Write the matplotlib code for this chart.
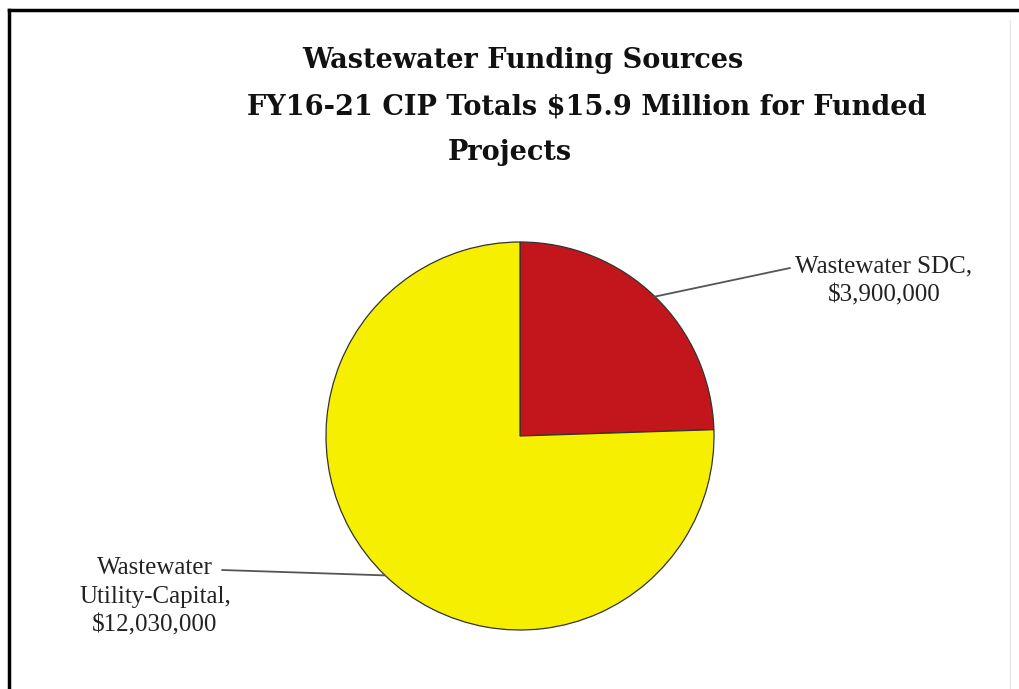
import numpy as np
import matplotlib.pyplot as plt
from matplotlib.lines import Line2D

# --- data ---
sources = ["Wastewater SDC,\n$3,900,000", "Wastewater\nUtility-Capital,\n$12,030,000"]
amounts = [3900000, 12030000]
colors = ["#C3161C", "#F6F000"]

title_lines = ["Wastewater Funding Sources",
               "FY16-21 CIP Totals $15.9 Million for Funded",
               "Projects"]

W, H = 1019, 689
fig = plt.figure(figsize=(W / 100, H / 100), dpi=100)

# pie axes placed in pixels: centre (520, 436), radius 194
cx, cy, r = 520, 436, 194
ax = fig.add_axes([(cx - r) / W, (H - cy - r) / H, 2 * r / W, 2 * r / H])
wedges, _ = ax.pie(amounts, colors=colors, startangle=90, counterclock=False,
                   wedgeprops=dict(edgecolor="#333333", linewidth=0.9))
ax.set_aspect("equal")
ax.set_xlim(-1, 1)
ax.set_ylim(-1, 1)

# label text positions (figure pixels, top-left origin) and line ends
label_pos = [(884, 281), (155, 597)]
line_ends = [(790, 268), (222, 570)]
for w, lab, (tx, ty), (lx, ly) in zip(wedges, sources, label_pos, line_ends):
    ang = np.radians((w.theta1 + w.theta2) / 2)
    x, y = np.cos(ang), np.sin(ang)
    ax.annotate("", xy=(x, y), xycoords="data",
                xytext=(lx, H - ly), textcoords="figure pixels",
                arrowprops=dict(arrowstyle="-", color="#555555", lw=1.3,
                                shrinkA=0, shrinkB=0))
    fig.text(tx / W, 1 - ty / H, lab, ha="center", va="center",
             fontsize=18, family="Liberation Serif", color="#222222",
             linespacing=1.4)

# title, one line at a time to keep the original offsets
title_y = [61, 107, 153]
title_x = [523, 587, 510]
for t, x, y in zip(title_lines, title_x, title_y):
    fig.text(x / W, 1 - y / H, t, ha="center", va="center", fontsize=19.5,
             family="DejaVu Serif", fontweight="bold", color="#111111")

# frame: heavy top and left edge
fig.add_artist(Line2D([9 / W, 1], [1 - 10 / H, 1 - 10 / H], color="black", lw=2.5))
fig.add_artist(Line2D([9 / W, 9 / W], [0, 1 - 10 / H], color="black", lw=2.5))
fig.add_artist(Line2D([1010 / W, 1010 / W], [0, 1 - 20 / H], color="#e6e6e6", lw=1))

fig.savefig("out.png", dpi=100)
